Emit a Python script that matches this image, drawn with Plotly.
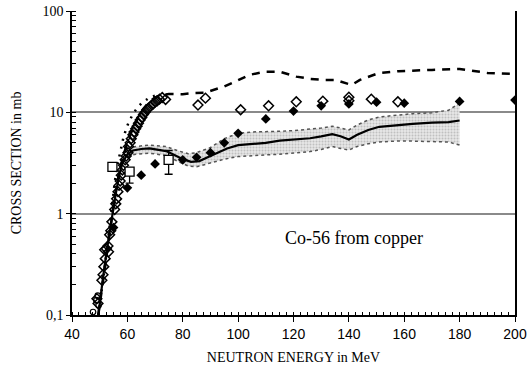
import plotly.graph_objects as go

# --- measured cross sections (MeV, mb) ---
open_dia_E = [49.0, 49.4, 50.8, 51.2, 51.5, 52.0, 52.4, 51.8, 53.0, 53.2, 53.6, 54.0,
              54.4, 55.4, 55.8, 56.1, 56.6, 57.0, 57.4, 57.8, 58.2, 58.6, 59.2, 59.6,
              60.2, 60.4, 61.0, 61.4, 62.0, 62.4, 63.0, 63.5, 64.0, 64.6, 65.2, 65.8,
              66.4, 67.0, 67.6, 68.4, 69.2, 70.0, 70.8, 71.6, 72.6, 73.8,
              85.5, 88.2, 100.9, 111.0, 121.0, 130.6, 140.0, 140.0, 148.1, 157.7]
open_dia_v = [0.145, 0.13, 0.22, 0.25, 0.30, 0.36, 0.45, 0.44, 0.48, 0.42, 0.62, 0.68,
              0.83, 1.10, 1.25, 1.40, 1.65, 1.90, 2.10, 2.40, 2.70, 3.00, 3.40, 3.70,
              4.00, 4.60, 5.00, 5.50, 6.00, 6.40, 6.90, 7.30, 7.80, 8.40, 8.90, 9.50,
              10.0, 10.6, 11.0, 11.5, 12.0, 12.6, 13.0, 13.5, 14.0, 13.4,
              11.8, 13.8, 10.6, 11.6, 12.7, 12.9, 14.1, 13.0, 13.5, 12.7]

filled_dia_E = [55, 60, 65, 70, 80, 85, 90, 95, 100, 110, 120, 130, 140, 150, 160, 180, 200]
filled_dia_v = [0.73, 1.8, 2.4, 3.1, 3.4, 3.6, 4.0, 5.0, 6.2, 8.6, 10.3, 11.6, 12.1, 12.6,
                12.3, 12.8, 13.2]

square_E = [54.6, 60.8, 74.9]
square_v = [2.9, 2.6, 3.4]
square_err_plus = [0.0, 0.0, 0.8]
square_err_minus = [0.0, 0.6, 0.95]

circle_E = [47.6, 48.8, 49.3, 49.6]
circle_v = [0.107, 0.14, 0.155, 0.125]

# --- model calculations ---
dotted_E = [49.5, 50.5, 51.5, 52.5, 53.5, 54.5, 55.5, 56.5, 57.5, 58.5, 59.5, 60.5,
            62.0, 63.5, 65.0, 66.5, 68.0, 70.0]
dotted_v = [0.1, 0.15, 0.25, 0.42, 0.75, 1.3, 2.1, 3.1, 4.3, 5.5, 6.8, 8.0,
            9.6, 11.0, 12.2, 13.2, 14.0, 14.6]

dashed_E = [49.5, 51, 52.5, 54, 55.5, 57, 58.5, 60, 62, 64, 66, 68, 70, 72, 75, 80, 84,
            88, 91, 95, 99, 104, 110, 115, 121, 126, 131, 135, 141, 144, 151, 158, 170,
            180, 190, 200]
dashed_v = [0.1, 0.2, 0.4, 0.8, 1.5, 2.5, 3.7, 5.0, 7.0, 9.0, 11.0, 12.8, 14.0, 14.8,
            15.2, 15.1, 15.5, 15.6, 16.6, 18.0, 20.1, 23.4, 25.2, 25.2, 22.5, 21.4, 20.9,
            20.9, 18.6, 20.9, 24.5, 25.5, 26.2, 26.8, 24.5, 23.9]

solid_E = [49.5, 50.5, 51.5, 52.5, 53.5, 54.5, 55.5, 56.5, 57.5, 58.5, 60, 62, 65, 68,
           71, 74, 77, 80, 83, 86, 89, 92, 96, 100, 105, 110, 115, 120, 126, 130, 134,
           137, 140, 143, 147, 151, 157, 163, 170, 176, 180]
solid_v = [0.1, 0.17, 0.27, 0.42, 0.65, 0.95, 1.4, 2.0, 2.7, 3.3, 3.85, 4.2, 4.35, 4.4,
           4.3, 4.15, 3.8, 3.45, 3.25, 3.3, 3.6, 3.95, 4.4, 4.75, 4.9, 5.0, 5.25, 5.35,
           5.55, 5.8, 6.1, 5.8, 5.4, 6.0, 6.7, 7.2, 7.5, 7.7, 7.9, 8.0, 8.3]

band_E = [60, 63, 68, 74, 78, 82, 85, 90, 95, 100, 105, 110, 115, 120, 126, 130, 134,
          137, 140, 143, 147, 151, 157, 163, 170, 176, 180]
band_hi = [4.35, 4.6, 4.75, 4.6, 4.2, 3.9, 4.0, 4.5, 5.5, 6.2, 6.4, 6.4, 6.5, 6.6, 6.8,
           7.0, 7.3, 7.0, 6.7, 7.5, 8.4, 9.0, 9.4, 9.7, 9.9, 10.5, 12.3]
band_lo = [3.7, 3.85, 3.95, 3.75, 3.3, 2.95, 2.9, 3.15, 3.45, 3.66, 3.75, 3.8, 3.85,
           3.95, 4.1, 4.3, 4.6, 4.4, 4.25, 4.6, 4.9, 5.1, 5.2, 5.2, 5.15, 5.1, 4.75]

x_ticks = [40, 60, 80, 100, 120, 140, 160, 180, 200]
y_ticks = [0.1, 1, 10, 100]
y_tick_text = ["0,1", "1", "10", "100"]

SERIF = "Liberation Serif, Times New Roman, serif"
SANS = "Liberation Sans, Arial, sans-serif"

fig = go.Figure()

# uncertainty band of the solid calculation
fig.add_trace(go.Scatter(x=band_E, y=band_lo, mode="lines",
                         line=dict(color="#555", width=1.5, dash="dot"),
                         showlegend=False, hoverinfo="skip"))
fig.add_trace(go.Scatter(x=band_E, y=band_hi, mode="lines",
                         line=dict(color="#555", width=1.5, dash="dot"),
                         fill="tonexty", fillcolor="rgba(205,205,205,0.7)",
                         fillpattern=dict(shape=".", fgcolor="#999", bgcolor="#e6e6e6",
                                          size=3, solidity=0.35),
                         showlegend=False, hoverinfo="skip"))

fig.add_trace(go.Scatter(x=solid_E, y=solid_v, mode="lines",
                         line=dict(color="black", width=2.2), showlegend=False))
fig.add_trace(go.Scatter(x=dashed_E, y=dashed_v, mode="lines",
                         line=dict(color="black", width=2.5, dash="8px,7px"),
                         showlegend=False))
fig.add_trace(go.Scatter(x=dotted_E, y=dotted_v, mode="lines",
                         line=dict(color="black", width=2.5, dash="2px,6px"),
                         showlegend=False))

fig.add_trace(go.Scatter(x=open_dia_E, y=open_dia_v, mode="markers",
                         marker=dict(symbol="diamond-open", size=7.5, color="black",
                                     line=dict(width=1.5)),
                         showlegend=False))
fig.add_trace(go.Scatter(x=filled_dia_E, y=filled_dia_v, mode="markers",
                         marker=dict(symbol="diamond", size=7.5, color="black"),
                         showlegend=False))
fig.add_trace(go.Scatter(x=circle_E, y=circle_v, mode="markers",
                         marker=dict(symbol="circle-open", size=5.5, color="black",
                                     line=dict(width=1.2)),
                         showlegend=False))
fig.add_trace(go.Scatter(x=square_E, y=square_v, mode="markers",
                         marker=dict(symbol="square", size=9, color="white",
                                     line=dict(color="black", width=1.3)),
                         error_y=dict(type="data", symmetric=False,
                                      array=square_err_plus, arrayminus=square_err_minus,
                                      color="black", thickness=1.3, width=4),
                         showlegend=False))

fig.add_annotation(x=141.8, y=-0.24, xref="x", yref="y", text="Co-56 from copper",
                   showarrow=False, font=dict(family=SERIF, size=18, color="black"))

fig.update_xaxes(range=[40, 200], tickvals=x_ticks, ticks="outside", ticklen=5,
                 tickwidth=1.3, tickcolor="black", showline=True, linecolor="black",
                 linewidth=1.5, showgrid=False, zeroline=False, automargin=False,
                 minor=dict(ticks="inside", dtick=2.5, ticklen=3, tickcolor="black",
                            showgrid=False),
                 tickfont=dict(family=SANS, size=14, color="black"),
                 title=dict(text="NEUTRON ENERGY in MeV", standoff=12,
                            font=dict(family=SERIF, size=14, color="black")))
fig.update_yaxes(type="log", range=[-1, 2], tickvals=y_ticks, ticktext=y_tick_text,
                 ticks="outside", ticklen=4, tickcolor="black", showline=True,
                 linecolor="black", linewidth=1.5, mirror=True, automargin=False,
                 showgrid=True, gridcolor="#8a8a8a", gridwidth=2, zeroline=False,
                 minor=dict(ticks="inside", dtick="D1", ticklen=4, tickcolor="black",
                            showgrid=False),
                 tickfont=dict(family=SERIF, size=14, color="black"),
                 title=dict(text="CROSS SECTION in mb", standoff=18,
                            font=dict(family=SERIF, size=14, color="black")))

fig.update_layout(width=527, height=371, margin=dict(l=72, r=12, t=11, b=56),
                  paper_bgcolor="white", plot_bgcolor="white")

fig.write_html("out.html")
